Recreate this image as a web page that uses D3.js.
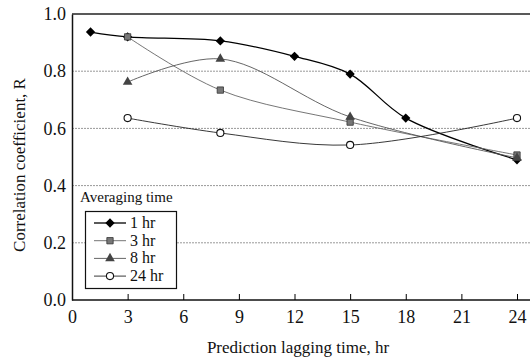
<!DOCTYPE html>
<html>
<head>
<meta charset="utf-8">
<script src="https://cdn.jsdelivr.net/npm/d3@7"></script>
<style>
  body { margin: 0; background: #fff; }
  .grid { stroke: #999; stroke-width: 1; stroke-dasharray: 2 1; }
</style>
</head>
<body>
<div id="chart"></div>
<script>
// data
const lag1 = [1, 3, 8, 12, 15, 18, 24]
const r1 = [0.937, 0.92, 0.906, 0.852, 0.79, 0.636, 0.49]
const lagOther = [3, 8, 15, 24]
const r3 = [0.92, 0.734, 0.622, 0.507]
const r8 = [0.762, 0.843, 0.64, 0.497]
const r24 = [0.636, 0.584, 0.542, 0.636]
const xTicks = [0, 3, 6, 9, 12, 15, 18, 21, 24]
const yTicks = [0, 0.2, 0.4, 0.6, 0.8, 1.0]
const seriesNames = ["1 hr", "3 hr", "8 hr", "24 hr"]

const fontFam = '"Liberation Serif"'

const series = [
  { name: seriesNames[0], xs: lag1, ys: r1, marker: "diamond", stroke: "#000", width: 1.3 },
  { name: seriesNames[1], xs: lagOther, ys: r3, marker: "square", stroke: "#666", width: 0.9 },
  { name: seriesNames[2], xs: lagOther, ys: r8, marker: "triangle", stroke: "#555", width: 0.9 },
  { name: seriesNames[3], xs: lagOther, ys: r24, marker: "circle", stroke: "#222", width: 0.9 },
]

let dimensions = {
  width: 530,
  height: 360,
  margin: { top: 14, right: 0, bottom: 60, left: 72 },
}
dimensions.boundedWidth = dimensions.width - dimensions.margin.left - dimensions.margin.right
dimensions.boundedHeight = dimensions.height - dimensions.margin.top - dimensions.margin.bottom

const wrapper = d3.select("#chart")
  .append("svg")
  .attr("width", dimensions.width)
  .attr("height", dimensions.height)

const bounds = wrapper.append("g")
  .attr("transform", `translate(${dimensions.margin.left},${dimensions.margin.top})`)

const xScale = d3.scaleLinear().domain([0, 24]).range([0, 445])
const yScale = d3.scaleLinear().domain([0, 1]).range([dimensions.boundedHeight, 0])

// grid lines
bounds.selectAll(".grid")
  .data(yTicks.filter(d => d > 0 && d < 1))
  .join("line")
  .attr("class", "grid")
  .attr("x1", 0)
  .attr("x2", dimensions.boundedWidth)
  .attr("y1", d => yScale(d))
  .attr("y2", d => yScale(d))

// top frame line
bounds.append("line")
  .attr("x1", 0).attr("x2", dimensions.boundedWidth)
  .attr("y1", yScale(1)).attr("y2", yScale(1))
  .attr("stroke", "#222").attr("stroke-width", 1.5)

const xAxis = bounds.append("g")
  .attr("transform", `translate(0,${dimensions.boundedHeight})`)
  .call(d3.axisBottom(xScale).tickValues(xTicks).tickSizeInner(-6).tickSizeOuter(0).tickPadding(10))
xAxis.select(".domain").attr("d", `M0,0H${dimensions.boundedWidth}`).attr("stroke", "#111").attr("stroke-width", 1.5)
xAxis.selectAll("text").style("font-size", "18px").style("font-family", fontFam).attr("fill", "#111")

const yAxis = bounds.append("g")
  .call(d3.axisLeft(yScale).tickValues(yTicks).tickFormat(d3.format(".1f")).tickSize(0).tickPadding(6))
yAxis.select(".domain").attr("stroke", "#111").attr("stroke-width", 1.5)
yAxis.selectAll("text").style("font-size", "18px").style("font-family", fontFam).attr("fill", "#111")

// axis labels
wrapper.append("text")
  .attr("x", 298).attr("y", 353)
  .attr("text-anchor", "middle")
  .style("font-size", "17px")
  .style("font-family", fontFam)
  .attr("fill", "#111")
  .text("Prediction lagging time, hr")

wrapper.append("text")
  .attr("transform", "translate(25,165) rotate(-90)")
  .attr("text-anchor", "middle")
  .style("font-size", "17px")
  .style("font-family", fontFam)
  .attr("fill", "#111")
  .text("Correlation coefficient, R")

// markers
const symbolTypes = {
  diamond: d3.symbolDiamond2 || d3.symbolDiamond,
  square: d3.symbolSquare,
  triangle: d3.symbolTriangle,
  circle: d3.symbolCircle,
}
function drawMarker(g, kind, x, y) {
  const size = kind === "diamond" ? 55 : 40
  const p = g.append("path")
    .attr("d", d3.symbol().type(symbolTypes[kind]).size(size)())
    .attr("transform", `translate(${x},${y})`)
  if (kind === "circle") {
    p.attr("fill", "#fff").attr("stroke", "#111").attr("stroke-width", 1.1)
  } else if (kind === "square") {
    p.attr("fill", "#777").attr("stroke", "#333").attr("stroke-width", 0.8)
  } else if (kind === "triangle") {
    p.attr("fill", "#444")
  } else {
    p.attr("fill", "#000")
  }
}

const lineGenerator = d3.line()
  .x(d => xScale(d[0]))
  .y(d => yScale(d[1]))
  .curve(d3.curveCatmullRom.alpha(0.5))

series.forEach(s => {
  const pts = s.xs.map((x, i) => [x, s.ys[i]])
  bounds.append("path")
    .attr("d", lineGenerator(pts))
    .attr("fill", "none")
    .attr("stroke", s.stroke)
    .attr("stroke-width", s.width)
  pts.forEach(p => drawMarker(bounds, s.marker, xScale(p[0]), yScale(p[1])))
})

// legend
wrapper.append("text")
  .attr("x", 80).attr("y", 202)
  .style("font-size", "15px")
  .style("font-family", fontFam)
  .attr("fill", "#111")
  .text("Averaging time")

const legend = wrapper.append("g")
legend.append("rect")
  .attr("x", 85.5).attr("y", 211.5)
  .attr("width", 91).attr("height", 77)
  .attr("fill", "#fff").attr("stroke", "#111").attr("stroke-width", 1.2)

series.forEach((s, i) => {
  const y = 223 + i * 17.7
  legend.append("line")
    .attr("x1", 94).attr("x2", 126)
    .attr("y1", y).attr("y2", y)
    .attr("stroke", s.stroke).attr("stroke-width", s.width)
  drawMarker(legend, s.marker, 110, y)
  legend.append("text")
    .attr("x", 130).attr("y", y + 5)
    .style("font-size", "16px")
    .style("font-family", fontFam)
    .attr("fill", "#111")
    .text(s.name)
})
</script>
</body>
</html>
